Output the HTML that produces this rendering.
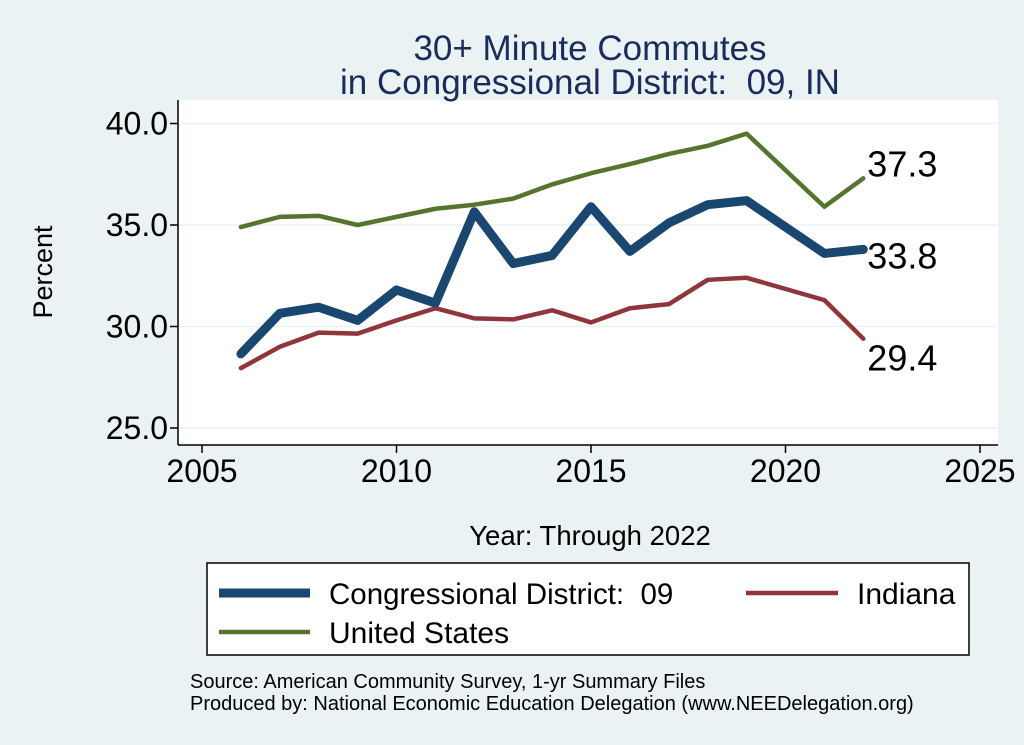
<!DOCTYPE html>
<html><head><meta charset="utf-8"><style>
body{margin:0;background:#eaf2f3;}
svg{display:block;font-family:"Liberation Sans",sans-serif;}
text{white-space:pre;}
</style></head><body>
<svg width="1024" height="745" viewBox="0 0 1024 745">
<rect x="0" y="0" width="1024" height="745" fill="#eaf2f3"/>
<rect x="178" y="100" width="820" height="345" fill="#fff"/>
<text x="590" y="60" text-anchor="middle" font-size="35" fill="#1a2b5c">30+ Minute Commutes</text>
<text x="590" y="94" text-anchor="middle" font-size="35" fill="#1a2b5c">in Congressional District:  09, IN</text>
<g id="grid"></g><g id="axes"></g><g id="series"></g>
<text x="52" y="272" text-anchor="middle" font-size="27" transform="rotate(-90 52 272)">Percent</text>
<text x="590" y="545" text-anchor="middle" font-size="27.5">Year: Through 2022</text>
<g>
<rect x="207" y="563" width="762" height="92" fill="#fff" stroke="#000" stroke-width="1.5"/>
<line x1="219" y1="593" x2="310" y2="593" stroke="#1a476f" stroke-width="9"/>
<text x="329" y="604" font-size="29.5">Congressional District:  09</text>
<line x1="746" y1="593" x2="838" y2="593" stroke="#90353b" stroke-width="4.5"/>
<text x="857" y="604" font-size="30">Indiana</text>
<line x1="219" y1="632" x2="310" y2="632" stroke="#55752f" stroke-width="4.5"/>
<text x="329" y="643" font-size="30">United States</text>
</g>
<text x="190" y="688" font-size="20">Source: American Community Survey, 1-yr Summary Files</text>
<text x="190" y="710" font-size="20">Produced by: National Economic Education Delegation (www.NEEDelegation.org)</text>
</svg>
<script>
const years=[2006,2007,2008,2009,2010,2011,2012,2013,2014,2015,2016,2017,2018,2019,2021,2022];
const district=[28.65,30.65,30.95,30.3,31.8,31.15,35.65,33.1,33.5,35.9,33.7,35.1,36.0,36.2,33.6,33.8];
const indiana=[27.95,29.0,29.7,29.65,30.3,30.9,30.4,30.35,30.8,30.2,30.9,31.1,32.3,32.4,31.3,29.4];
const usa=[34.9,35.4,35.45,35.0,35.4,35.8,36.0,36.3,37.0,37.55,38.0,38.5,38.9,39.5,35.9,37.3];
const xTicks=[2005,2010,2015,2020,2025];
const yTicks=[25,30,35,40];
const X=v=>202+(v-2005)*38.9;
const Y=v=>428-(v-25)*20.3;
const NS="http://www.w3.org/2000/svg";
function mk(t,a,p){const e=document.createElementNS(NS,t);for(const k in a)e.setAttribute(k,a[k]);p.appendChild(e);return e;}
const grid=document.getElementById('grid'),axes=document.getElementById('axes'),ser=document.getElementById('series');
mk('line',{x1:178,y1:445,x2:998,y2:445,stroke:'#000','stroke-width':1.5},axes);
mk('line',{x1:178,y1:100,x2:178,y2:445,stroke:'#000','stroke-width':1.5},axes);
yTicks.forEach(v=>{
 const g=mk('line',{x1:178,y1:Y(v),x2:998,y2:Y(v),stroke:'#eaf2f3','stroke-width':1.5},grid);
 
 
 mk('line',{x1:170,y1:Y(v),x2:178,y2:Y(v),stroke:'#000','stroke-width':1.5},axes);
 const t=mk('text',{x:168,y:Y(v)+11,'text-anchor':'end','font-size':32},axes);t.textContent=v.toFixed(1);
 
 
});
xTicks.forEach(v=>{
 mk('line',{x1:X(v),y1:445,x2:X(v),y2:453,stroke:'#000','stroke-width':1.5},axes);
 const t=mk('text',{x:X(v),y:482,'text-anchor':'middle','font-size':32},axes);t.textContent=v;
 
 
});
function line(vals,col,w,name){
 const p=mk('polyline',{points:vals.map((v,i)=>X(years[i])+','+Y(v)).join(' '),fill:'none',stroke:col,'stroke-width':w,'stroke-linejoin':'round','stroke-linecap':'round'},ser);
 
 
}
line(usa,'#55752f',4.5,'line-united-states');
line(indiana,'#90353b',4.5,'line-indiana');
line(district,'#1a476f',9,'line-district');
const n=years.length-1,lx=X(years[n])+4;
[[usa,-2,'label-us-last'],[district,19,'label-district-last'],[indiana,32,'label-indiana-last']].forEach(([a,dy,nm])=>{
 const t=mk('text',{x:lx,y:Y(a[n])+dy,'font-size':36},ser);t.textContent=a[n].toFixed(1);
 
 
});
</script>
</body></html>
